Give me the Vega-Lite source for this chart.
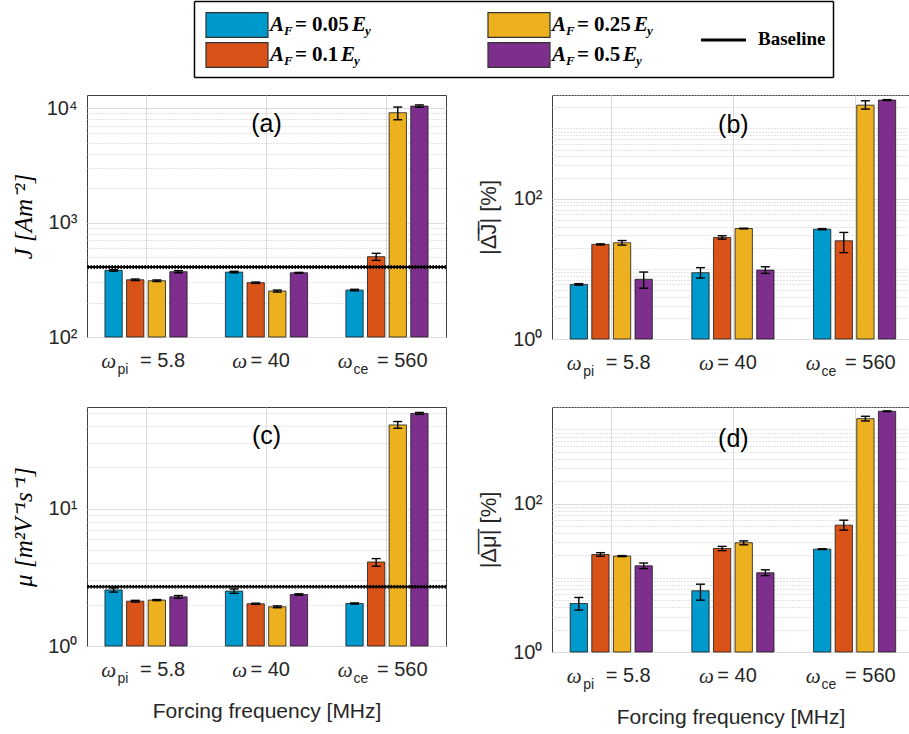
{
  "$schema": "https://vega.github.io/schema/vega-lite/v6.json",
  "background": "white",
  "padding": {"left": 10, "top": 1, "right": 0, "bottom": 0},
  "datasets": {
    "bars": [
      {"panel": "a", "freq": "5.8", "amp": "0.05", "value": 382, "lo": 376, "hi": 388},
      {"panel": "a", "freq": "5.8", "amp": "0.1", "value": 316, "lo": 311, "hi": 321},
      {"panel": "a", "freq": "5.8", "amp": "0.25", "value": 310, "lo": 305, "hi": 315},
      {"panel": "a", "freq": "5.8", "amp": "0.5", "value": 372, "lo": 364, "hi": 380},
      {"panel": "a", "freq": "40", "amp": "0.05", "value": 369, "lo": 363, "hi": 375},
      {"panel": "a", "freq": "40", "amp": "0.1", "value": 298, "lo": 294, "hi": 302},
      {"panel": "a", "freq": "40", "amp": "0.25", "value": 252, "lo": 247, "hi": 257},
      {"panel": "a", "freq": "40", "amp": "0.5", "value": 364, "lo": 361, "hi": 367},
      {"panel": "a", "freq": "560", "amp": "0.05", "value": 257, "lo": 253, "hi": 261},
      {"panel": "a", "freq": "560", "amp": "0.1", "value": 503, "lo": 467, "hi": 538},
      {"panel": "a", "freq": "560", "amp": "0.25", "value": 9100, "lo": 7900, "hi": 10200},
      {"panel": "a", "freq": "560", "amp": "0.5", "value": 10400, "lo": 10150, "hi": 10650},
      {"panel": "b", "freq": "5.8", "amp": "0.05", "value": 6.0, "lo": 5.85, "hi": 6.15},
      {"panel": "b", "freq": "5.8", "amp": "0.1", "value": 22.3, "lo": 21.9, "hi": 22.7},
      {"panel": "b", "freq": "5.8", "amp": "0.25", "value": 23.5, "lo": 21.8, "hi": 25.3},
      {"panel": "b", "freq": "5.8", "amp": "0.5", "value": 7.1, "lo": 5.3, "hi": 9.0},
      {"panel": "b", "freq": "40", "amp": "0.05", "value": 8.8, "lo": 7.4, "hi": 10.4},
      {"panel": "b", "freq": "40", "amp": "0.1", "value": 28.0, "lo": 26.5, "hi": 29.6},
      {"panel": "b", "freq": "40", "amp": "0.25", "value": 37.5, "lo": 37.1, "hi": 37.9},
      {"panel": "b", "freq": "40", "amp": "0.5", "value": 9.6, "lo": 8.6, "hi": 10.7},
      {"panel": "b", "freq": "560", "amp": "0.05", "value": 36.7, "lo": 36.0, "hi": 37.4},
      {"panel": "b", "freq": "560", "amp": "0.1", "value": 25.1, "lo": 17.0, "hi": 33.0},
      {"panel": "b", "freq": "560", "amp": "0.25", "value": 2150, "lo": 1890, "hi": 2480},
      {"panel": "b", "freq": "560", "amp": "0.5", "value": 2540, "lo": 2500, "hi": 2580},
      {"panel": "c", "freq": "5.8", "amp": "0.05", "value": 2.56, "lo": 2.47, "hi": 2.65},
      {"panel": "c", "freq": "5.8", "amp": "0.1", "value": 2.12, "lo": 2.09, "hi": 2.15},
      {"panel": "c", "freq": "5.8", "amp": "0.25", "value": 2.16, "lo": 2.14, "hi": 2.18},
      {"panel": "c", "freq": "5.8", "amp": "0.5", "value": 2.28, "lo": 2.23, "hi": 2.33},
      {"panel": "c", "freq": "40", "amp": "0.05", "value": 2.51, "lo": 2.42, "hi": 2.6},
      {"panel": "c", "freq": "40", "amp": "0.1", "value": 2.03, "lo": 2.01, "hi": 2.05},
      {"panel": "c", "freq": "40", "amp": "0.25", "value": 1.93, "lo": 1.9, "hi": 1.96},
      {"panel": "c", "freq": "40", "amp": "0.5", "value": 2.37, "lo": 2.34, "hi": 2.4},
      {"panel": "c", "freq": "560", "amp": "0.05", "value": 2.04, "lo": 2.02, "hi": 2.06},
      {"panel": "c", "freq": "560", "amp": "0.1", "value": 4.09, "lo": 3.81, "hi": 4.33},
      {"panel": "c", "freq": "560", "amp": "0.25", "value": 40.7, "lo": 38.5, "hi": 43.1},
      {"panel": "c", "freq": "560", "amp": "0.5", "value": 49.4, "lo": 48.6, "hi": 50.2},
      {"panel": "d", "freq": "5.8", "amp": "0.05", "value": 4.51, "lo": 3.67, "hi": 5.43},
      {"panel": "d", "freq": "5.8", "amp": "0.1", "value": 20.6, "lo": 19.5, "hi": 21.8},
      {"panel": "d", "freq": "5.8", "amp": "0.25", "value": 19.6, "lo": 19.3, "hi": 19.9},
      {"panel": "d", "freq": "5.8", "amp": "0.5", "value": 14.5, "lo": 13.3, "hi": 15.8},
      {"panel": "d", "freq": "40", "amp": "0.05", "value": 6.68, "lo": 5.0, "hi": 8.2},
      {"panel": "d", "freq": "40", "amp": "0.1", "value": 24.8, "lo": 23.2, "hi": 26.5},
      {"panel": "d", "freq": "40", "amp": "0.25", "value": 29.6, "lo": 27.8, "hi": 31.4},
      {"panel": "d", "freq": "40", "amp": "0.5", "value": 11.7, "lo": 10.7, "hi": 12.8},
      {"panel": "d", "freq": "560", "amp": "0.05", "value": 24.3, "lo": 24.0, "hi": 24.6},
      {"panel": "d", "freq": "560", "amp": "0.1", "value": 51.2, "lo": 43.9, "hi": 59.7},
      {"panel": "d", "freq": "560", "amp": "0.25", "value": 1393, "lo": 1297, "hi": 1500},
      {"panel": "d", "freq": "560", "amp": "0.5", "value": 1751, "lo": 1730, "hi": 1772}
    ],
    "baseline": [
      {"panel": "a", "value": 408, "lo": 396, "hi": 420},
      {"panel": "c", "value": 2.7, "lo": 2.64, "hi": 2.76}
    ],
    "legend": [
      {"amp": "0.05", "col": "c1", "row": "r1"},
      {"amp": "0.1", "col": "c1", "row": "r2"},
      {"amp": "0.25", "col": "c2", "row": "r1"},
      {"amp": "0.5", "col": "c2", "row": "r2"}
    ],
    "legendBase": [
      {"item": "Baseline", "col": "c3", "row": "mid"}
    ]
  },
  "vconcat": [
    {
      "width": 746,
      "height": 76,
      "view": {"stroke": null},
      "encoding": {
        "x": {"field": "col", "type": "nominal", "scale": {"type": "point", "domain": ["c1", "c2", "c3"], "range": [107, 746], "padding": 0.133, "align": 0.573}, "axis": null},
        "y": {"field": "row", "type": "nominal", "scale": {"type": "point", "domain": ["r1", "mid", "r2"], "range": [24, 54], "padding": 0}, "axis": null}
      },
      "layer": [
        {
          "data": {"name": "legend"},
          "mark": {"type": "point", "shape": "M-1,-0.4H1V0.4H-1Z", "size": 3844, "filled": true, "opacity": 1, "stroke": "#333333", "strokeWidth": 1.2},
          "encoding": {
            "x": {"field": "col", "type": "nominal", "scale": {"type": "point", "domain": ["c1", "c2", "c3"], "range": [107, 746], "padding": 0.133, "align": 0.573},
                  "axis": {"orient": "bottom", "labels": false, "ticks": false, "grid": false, "title": null, "domain": true, "domainColor": "black", "domainWidth": 1.5}},
            "fill": {"field": "amp", "type": "nominal", "scale": {"domain": ["0.05", "0.1", "0.25", "0.5"], "range": ["#0099CC", "#D95319", "#EDB120", "#7E2F8E"]}, "legend": null}
          }
        },
        {
          "data": {"name": "legend"},
          "mark": {"type": "text", "text": "A", "align": "left", "baseline": "middle", "dx": 33, "font": "Liberation Serif", "fontStyle": "italic", "fontWeight": "bold", "fontSize": 21, "color": "black"},
          "encoding": {
            "x": {"field": "col", "type": "nominal", "scale": {"type": "point", "domain": ["c1", "c2", "c3"], "range": [107, 746], "padding": 0.133, "align": 0.573},
                  "axis": {"orient": "top", "labels": false, "ticks": false, "grid": false, "title": null, "domain": true, "domainColor": "black", "domainWidth": 1.5}}
          }
        },
        {
          "data": {"name": "legend"},
          "mark": {"type": "text", "text": "F", "align": "left", "baseline": "middle", "dx": 47, "dy": 6, "font": "Liberation Serif", "fontStyle": "italic", "fontWeight": "bold", "fontSize": 13, "color": "black"},
          "encoding": {}
        },
        {
          "data": {"name": "legend"},
          "mark": {"type": "text", "text": "=", "align": "left", "baseline": "middle", "dx": 58, "font": "Liberation Serif", "fontWeight": "bold", "fontSize": 21, "color": "black"},
          "encoding": {}
        },
        {
          "data": {"name": "legend"},
          "mark": {"type": "text", "align": "left", "baseline": "middle", "dx": 75, "font": "Liberation Serif", "fontWeight": "bold", "fontSize": 21, "color": "black"},
          "encoding": {"text": {"field": "amp"}}
        },
        {
          "data": {"name": "legend"},
          "transform": [{"filter": "length(datum.amp) == 4"}],
          "mark": {"type": "text", "text": "E", "align": "left", "baseline": "middle", "dx": 115, "font": "Liberation Serif", "fontStyle": "italic", "fontWeight": "bold", "fontSize": 21, "color": "black"},
          "encoding": {}
        },
        {
          "data": {"name": "legend"},
          "transform": [{"filter": "length(datum.amp) == 3"}],
          "mark": {"type": "text", "text": "E", "align": "left", "baseline": "middle", "dx": 104, "font": "Liberation Serif", "fontStyle": "italic", "fontWeight": "bold", "fontSize": 21, "color": "black"},
          "encoding": {}
        },
        {
          "data": {"name": "legend"},
          "transform": [{"filter": "length(datum.amp) == 4"}],
          "mark": {"type": "text", "text": "y", "align": "left", "baseline": "middle", "dx": 128, "dy": 6, "font": "Liberation Serif", "fontStyle": "italic", "fontWeight": "bold", "fontSize": 13, "color": "black"},
          "encoding": {}
        },
        {
          "data": {"name": "legend"},
          "transform": [{"filter": "length(datum.amp) == 3"}],
          "mark": {"type": "text", "text": "y", "align": "left", "baseline": "middle", "dx": 117, "dy": 6, "font": "Liberation Serif", "fontStyle": "italic", "fontWeight": "bold", "fontSize": 13, "color": "black"},
          "encoding": {}
        },
        {
          "data": {"name": "legendBase"},
          "mark": {"type": "point", "shape": "M-10,0H-5.5", "size": 400, "filled": false, "opacity": 1, "stroke": "black", "strokeWidth": 3},
          "encoding": {}
        },
        {
          "data": {"name": "legendBase"},
          "mark": {"type": "text", "align": "left", "baseline": "middle", "dx": -43, "font": "Liberation Serif", "fontWeight": "bold", "fontSize": 19, "color": "black"},
          "encoding": {
            "y": {"field": "row", "type": "nominal", "scale": {"type": "point", "domain": ["r1", "mid", "r2"], "range": [0, 76], "padding": 0},
                  "axis": {"orient": "left", "offset": -107, "labels": false, "ticks": false, "grid": false, "title": null, "domain": true, "domainColor": "black", "domainWidth": 1.5}},
            "text": {"field": "item"}
          }
        },
        {
          "data": {"name": "legendBase"},
          "mark": {"type": "text", "text": "", "align": "left", "baseline": "middle", "font": "Liberation Serif", "fontSize": 19, "color": "black"},
          "encoding": {
            "y": {"field": "row", "type": "nominal", "scale": {"type": "point", "domain": ["r1", "mid", "r2"], "range": [0, 76], "padding": 0},
                  "axis": {"orient": "right", "labels": false, "ticks": false, "grid": false, "title": null, "domain": true, "domainColor": "black", "domainWidth": 1.5}}
          }
        }
      ],
      "resolve": {"scale": {"y": "independent"}, "axis": {"x": "independent", "y": "independent"}}
    },
    {
      "spacing": 27,
      "vconcat": [
        {
          "spacing": 28,
          "hconcat": [
            {
              "width": 359,
              "height": 242,
              "layer": [
                {
                  "data": {"name": "bars"},
                  "transform": [{"filter": "datum.panel == 'a'"}],
                  "mark": {"type": "bar", "stroke": "#1a1a1a", "strokeWidth": 0.8},
                  "encoding": {
                    "x": {"field": "freq", "type": "nominal", "sort": ["5.8", "40", "560"], "scale": {"domain": ["5.8", "40", "560"], "paddingInner": 0.3, "paddingOuter": 0.14, "align": 0.5},
                          "axis": {"orient": "bottom", "title": null, "labelExpr": "'= ' + datum.label", "labelAlign": "left", "labelBaseline": "top", "labelAngle": 0, "labelFontSize": 20, "labelPadding": 13,
                                   "labelOffset": {"condition": [{"test": "datum.value == '5.8'", "value": -6}, {"test": "datum.value == '40'", "value": -16}], "value": -10},
                                   "labelOverlap": false, "labelBound": false, "ticks": false, "domain": false, "grid": true, "gridColor": "#dcdcdc", "bandPosition": 0.5}},
                    "xOffset": {"field": "amp", "type": "nominal", "scale": {"domain": ["0.05", "0.1", "0.25", "0.5"], "paddingInner": 0.2, "paddingOuter": 0.05}},
                    "y": {"field": "value", "type": "quantitative", "scale": {"type": "log", "domain": [100, 13000], "nice": false},
                          "axis": {"orient": "left", "values": [100, 1000, 10000], "labelExpr": "'10' + ['⁰','¹','²','³','⁴'][round(log(datum.value)/LN10)]", "labelFontSize": 20, "labelPadding": 10, "labelOverlap": false,
                                   "ticks": false, "domain": false, "grid": true, "gridColor": "#dcdcdc", "minExtent": 44, "maxExtent": 44,
                                   "title": "J [Am⁻²]", "titleFont": "Liberation Serif", "titleFontStyle": "italic", "titleFontWeight": "normal", "titleFontSize": 25, "titlePadding": 7, "titleColor": "black"}},
                    "y2": {"datum": 100},
                    "fill": {"field": "amp", "type": "nominal", "scale": {"domain": ["0.05", "0.1", "0.25", "0.5"], "range": ["#0099CC", "#D95319", "#EDB120", "#7E2F8E"]}, "legend": null}
                  }
                },
                {
                  "data": {"name": "bars"},
                  "transform": [{"filter": "datum.panel == 'a'"}],
                  "mark": {"type": "rule", "color": "black", "strokeWidth": 1.4},
                  "encoding": {
                    "x": {"field": "freq", "type": "nominal",
                          "axis": {"orient": "bottom", "title": null, "labelExpr": "'ω'", "labelAlign": "right", "labelBaseline": "top", "labelAngle": 0, "labelFont": "Liberation Serif", "labelFontStyle": "italic", "labelFontSize": 21, "labelPadding": 13,
                                   "labelOffset": {"condition": [{"test": "datum.value == '5.8'", "value": -30}, {"test": "datum.value == '40'", "value": -19.5}], "value": -34.5},
                                   "labelOverlap": false, "labelBound": false, "ticks": false, "domain": false, "grid": false, "bandPosition": 0.5}},
                    "xOffset": {"field": "amp", "type": "nominal"},
                    "y": {"field": "lo", "type": "quantitative", "scale": {"type": "log", "domain": [100, 13000], "nice": false},
                          "axis": {"orient": "left", "values": [200, 300, 400, 500, 600, 700, 800, 900, 2000, 3000, 4000, 5000, 6000, 7000, 8000, 9000], "labels": false, "ticks": false, "domain": false, "grid": true, "gridColor": "#c8c8c8", "gridDash": [1, 2], "title": null}},
                    "y2": {"field": "hi"}
                  }
                },
                {
                  "data": {"name": "bars"},
                  "transform": [{"filter": "datum.panel == 'a'"}],
                  "mark": {"type": "tick", "color": "black", "thickness": 1.4, "size": 9, "opacity": 1},
                  "encoding": {
                    "x": {"field": "freq", "type": "nominal",
                          "axis": {"orient": "bottom", "title": null, "labelExpr": "datum.value == '5.8' ? 'pi' : datum.value == '560' ? 'ce' : ''", "labelAlign": "left", "labelBaseline": "top", "labelAngle": 0, "labelFontSize": 14, "labelPadding": 25,
                                   "labelOffset": {"condition": {"test": "datum.value == '5.8'", "value": -28.5}, "value": -33.5},
                                   "labelOverlap": false, "labelBound": false, "ticks": false, "domain": false, "grid": false, "bandPosition": 0.5}},
                    "xOffset": {"field": "amp", "type": "nominal"},
                    "y": {"field": "lo", "type": "quantitative", "scale": {"type": "log", "domain": [100, 13000], "nice": false}, "axis": null}
                  }
                },
                {
                  "data": {"name": "bars"},
                  "transform": [{"filter": "datum.panel == 'a'"}],
                  "mark": {"type": "tick", "color": "black", "thickness": 1.4, "size": 9, "opacity": 1},
                  "encoding": {
                    "x": {"field": "freq", "type": "nominal", "axis": null},
                    "xOffset": {"field": "amp", "type": "nominal"},
                    "y": {"field": "hi", "type": "quantitative", "scale": {"type": "log", "domain": [100, 13000], "nice": false}, "axis": null}
                  }
                },
                {
                  "data": {"name": "baseline"},
                  "transform": [{"filter": "datum.panel == 'a'"}],
                  "mark": {"type": "rule", "color": "black", "strokeWidth": 2},
                  "encoding": {"y": {"field": "value", "type": "quantitative", "scale": {"type": "log", "domain": [100, 13000], "nice": false}, "axis": null}}
                },
                {
                  "data": {"name": "baseline"},
                  "transform": [{"filter": "datum.panel == 'a'"}],
                  "mark": {"type": "rule", "color": "black", "strokeWidth": 1, "strokeDash": [1.5, 1.5]},
                  "encoding": {"y": {"field": "lo", "type": "quantitative", "scale": {"type": "log", "domain": [100, 13000], "nice": false}, "axis": null}}
                },
                {
                  "data": {"name": "baseline"},
                  "transform": [{"filter": "datum.panel == 'a'"}],
                  "mark": {"type": "rule", "color": "black", "strokeWidth": 1, "strokeDash": [1.5, 1.5]},
                  "encoding": {"y": {"field": "hi", "type": "quantitative", "scale": {"type": "log", "domain": [100, 13000], "nice": false}, "axis": null}}
                },
                {
                  "data": {"values": [{"tag": "(a)"}]},
                  "mark": {"type": "text", "font": "Liberation Sans", "fontSize": 25, "align": "center", "baseline": "middle", "color": "black"},
                  "encoding": {
                    "x": {"datum": "40", "type": "nominal", "axis": null},
                    "y": {"datum": 7280, "type": "quantitative", "scale": {"type": "log", "domain": [100, 13000], "nice": false}, "axis": null},
                    "text": {"field": "tag"}
                  }
                }
              ],
              "resolve": {"axis": {"x": "independent", "y": "independent"}}
            },
            {
              "width": 357,
              "height": 244,
              "layer": [
                {
                  "data": {"name": "bars"},
                  "transform": [{"filter": "datum.panel == 'b'"}],
                  "mark": {"type": "bar", "stroke": "#1a1a1a", "strokeWidth": 0.8},
                  "encoding": {
                    "x": {"field": "freq", "type": "nominal", "sort": ["5.8", "40", "560"], "scale": {"domain": ["5.8", "40", "560"], "paddingInner": 0.3, "paddingOuter": 0.117, "align": 0.6},
                          "axis": {"orient": "bottom", "title": null, "labelExpr": "'= ' + datum.label", "labelAlign": "left", "labelBaseline": "top", "labelAngle": 0, "labelFontSize": 20, "labelPadding": 13,
                                   "labelOffset": {"condition": [{"test": "datum.value == '5.8'", "value": -6}, {"test": "datum.value == '40'", "value": -16}], "value": -10},
                                   "labelOverlap": false, "labelBound": false, "ticks": false, "domain": false, "grid": true, "gridColor": "#dcdcdc", "bandPosition": 0.5}},
                    "xOffset": {"field": "amp", "type": "nominal", "scale": {"domain": ["0.05", "0.1", "0.25", "0.5"], "paddingInner": 0.2, "paddingOuter": 0.05}},
                    "y": {"field": "value", "type": "quantitative", "scale": {"type": "log", "domain": [1, 3000], "nice": false},
                          "axis": {"orient": "left", "values": [1, 100], "labelExpr": "'10' + ['⁰','¹','²','³','⁴'][round(log(datum.value)/LN10)]", "labelFontSize": 20, "labelPadding": 10, "labelOverlap": false,
                                   "ticks": false, "domain": false, "grid": true, "gridColor": "#dcdcdc", "minExtent": 44, "maxExtent": 44,
                                   "title": "|Δ̅J̅| [%]", "titleFont": "Liberation Sans", "titleFontWeight": "normal", "titleFontSize": 22, "titlePadding": 8, "titleColor": "#262626"}},
                    "y2": {"datum": 1},
                    "fill": {"field": "amp", "type": "nominal", "scale": {"domain": ["0.05", "0.1", "0.25", "0.5"], "range": ["#0099CC", "#D95319", "#EDB120", "#7E2F8E"]}, "legend": null}
                  }
                },
                {
                  "data": {"name": "bars"},
                  "transform": [{"filter": "datum.panel == 'b'"}],
                  "mark": {"type": "rule", "color": "black", "strokeWidth": 1.4},
                  "encoding": {
                    "x": {"field": "freq", "type": "nominal",
                          "axis": {"orient": "bottom", "title": null, "labelExpr": "'ω'", "labelAlign": "right", "labelBaseline": "top", "labelAngle": 0, "labelFont": "Liberation Serif", "labelFontStyle": "italic", "labelFontSize": 21, "labelPadding": 13,
                                   "labelOffset": {"condition": [{"test": "datum.value == '5.8'", "value": -30}, {"test": "datum.value == '40'", "value": -19.5}], "value": -34.5},
                                   "labelOverlap": false, "labelBound": false, "ticks": false, "domain": false, "grid": false, "bandPosition": 0.5}},
                    "xOffset": {"field": "amp", "type": "nominal"},
                    "y": {"field": "lo", "type": "quantitative", "scale": {"type": "log", "domain": [1, 3000], "nice": false},
                          "axis": {"orient": "left", "values": [2, 3, 4, 5, 6, 7, 8, 9, 10, 20, 30, 40, 50, 60, 70, 80, 90, 200, 300, 400, 500, 600, 700, 800, 900, 1000, 2000, 3000], "labels": false, "ticks": false, "domain": false, "grid": true, "gridColor": "#c8c8c8", "gridDash": [1, 2], "title": null}},
                    "y2": {"field": "hi"}
                  }
                },
                {
                  "data": {"name": "bars"},
                  "transform": [{"filter": "datum.panel == 'b'"}],
                  "mark": {"type": "tick", "color": "black", "thickness": 1.4, "size": 9, "opacity": 1},
                  "encoding": {
                    "x": {"field": "freq", "type": "nominal",
                          "axis": {"orient": "bottom", "title": null, "labelExpr": "datum.value == '5.8' ? 'pi' : datum.value == '560' ? 'ce' : ''", "labelAlign": "left", "labelBaseline": "top", "labelAngle": 0, "labelFontSize": 14, "labelPadding": 25,
                                   "labelOffset": {"condition": {"test": "datum.value == '5.8'", "value": -28.5}, "value": -33.5},
                                   "labelOverlap": false, "labelBound": false, "ticks": false, "domain": false, "grid": false, "bandPosition": 0.5}},
                    "xOffset": {"field": "amp", "type": "nominal"},
                    "y": {"field": "lo", "type": "quantitative", "scale": {"type": "log", "domain": [1, 3000], "nice": false}, "axis": null}
                  }
                },
                {
                  "data": {"name": "bars"},
                  "transform": [{"filter": "datum.panel == 'b'"}],
                  "mark": {"type": "tick", "color": "black", "thickness": 1.4, "size": 9, "opacity": 1},
                  "encoding": {
                    "x": {"field": "freq", "type": "nominal", "axis": null},
                    "xOffset": {"field": "amp", "type": "nominal"},
                    "y": {"field": "hi", "type": "quantitative", "scale": {"type": "log", "domain": [1, 3000], "nice": false}, "axis": null}
                  }
                },
                {
                  "data": {"values": [{"tag": "(b)"}]},
                  "mark": {"type": "text", "font": "Liberation Sans", "fontSize": 25, "align": "center", "baseline": "middle", "color": "black"},
                  "encoding": {
                    "x": {"datum": "40", "type": "nominal", "axis": null},
                    "y": {"datum": 1132, "type": "quantitative", "scale": {"type": "log", "domain": [1, 3000], "nice": false}, "axis": null},
                    "text": {"field": "tag"}
                  }
                }
              ],
              "resolve": {"axis": {"x": "independent", "y": "independent"}}
            }
          ]
        },
        {
          "spacing": 28,
          "hconcat": [
            {
              "width": 359,
              "height": 239,
              "layer": [
                {
                  "data": {"name": "bars"},
                  "transform": [{"filter": "datum.panel == 'c'"}],
                  "mark": {"type": "bar", "stroke": "#1a1a1a", "strokeWidth": 0.8},
                  "encoding": {
                    "x": {"field": "freq", "type": "nominal", "sort": ["5.8", "40", "560"], "scale": {"domain": ["5.8", "40", "560"], "paddingInner": 0.3, "paddingOuter": 0.14, "align": 0.5},
                          "axis": {"orient": "bottom", "title": "Forcing frequency [MHz]", "titleFont": "Liberation Sans", "titleFontSize": 21, "titleFontWeight": "normal", "titlePadding": 21, "titleColor": "#262626",
                                   "labelExpr": "'= ' + datum.label", "labelAlign": "left", "labelBaseline": "top", "labelAngle": 0, "labelFontSize": 20, "labelPadding": 13,
                                   "labelOffset": {"condition": [{"test": "datum.value == '5.8'", "value": -6}, {"test": "datum.value == '40'", "value": -16}], "value": -10},
                                   "labelOverlap": false, "labelBound": false, "ticks": false, "domain": false, "grid": true, "gridColor": "#dcdcdc", "bandPosition": 0.5}},
                    "xOffset": {"field": "amp", "type": "nominal", "scale": {"domain": ["0.05", "0.1", "0.25", "0.5"], "paddingInner": 0.2, "paddingOuter": 0.05}},
                    "y": {"field": "value", "type": "quantitative", "scale": {"type": "log", "domain": [1, 55], "nice": false},
                          "axis": {"orient": "left", "values": [1, 10], "labelExpr": "'10' + ['⁰','¹','²','³','⁴'][round(log(datum.value)/LN10)]", "labelFontSize": 20, "labelPadding": 10, "labelOverlap": false,
                                   "ticks": false, "domain": false, "grid": true, "gridColor": "#dcdcdc", "minExtent": 44, "maxExtent": 44,
                                   "title": "μ [m²V⁻¹s⁻¹]", "titleFont": "Liberation Serif", "titleFontStyle": "italic", "titleFontWeight": "normal", "titleFontSize": 25, "titlePadding": 7, "titleColor": "black"}},
                    "y2": {"datum": 1},
                    "fill": {"field": "amp", "type": "nominal", "scale": {"domain": ["0.05", "0.1", "0.25", "0.5"], "range": ["#0099CC", "#D95319", "#EDB120", "#7E2F8E"]}, "legend": null}
                  }
                },
                {
                  "data": {"name": "bars"},
                  "transform": [{"filter": "datum.panel == 'c'"}],
                  "mark": {"type": "rule", "color": "black", "strokeWidth": 1.4},
                  "encoding": {
                    "x": {"field": "freq", "type": "nominal",
                          "axis": {"orient": "bottom", "title": null, "labelExpr": "'ω'", "labelAlign": "right", "labelBaseline": "top", "labelAngle": 0, "labelFont": "Liberation Serif", "labelFontStyle": "italic", "labelFontSize": 21, "labelPadding": 13,
                                   "labelOffset": {"condition": [{"test": "datum.value == '5.8'", "value": -30}, {"test": "datum.value == '40'", "value": -19.5}], "value": -34.5},
                                   "labelOverlap": false, "labelBound": false, "ticks": false, "domain": false, "grid": false, "bandPosition": 0.5}},
                    "xOffset": {"field": "amp", "type": "nominal"},
                    "y": {"field": "lo", "type": "quantitative", "scale": {"type": "log", "domain": [1, 55], "nice": false},
                          "axis": {"orient": "left", "values": [2, 3, 4, 5, 6, 7, 8, 9, 20, 30, 40, 50], "labels": false, "ticks": false, "domain": false, "grid": true, "gridColor": "#c8c8c8", "gridDash": [1, 2], "title": null}},
                    "y2": {"field": "hi"}
                  }
                },
                {
                  "data": {"name": "bars"},
                  "transform": [{"filter": "datum.panel == 'c'"}],
                  "mark": {"type": "tick", "color": "black", "thickness": 1.4, "size": 9, "opacity": 1},
                  "encoding": {
                    "x": {"field": "freq", "type": "nominal",
                          "axis": {"orient": "bottom", "title": null, "labelExpr": "datum.value == '5.8' ? 'pi' : datum.value == '560' ? 'ce' : ''", "labelAlign": "left", "labelBaseline": "top", "labelAngle": 0, "labelFontSize": 14, "labelPadding": 25,
                                   "labelOffset": {"condition": {"test": "datum.value == '5.8'", "value": -28.5}, "value": -33.5},
                                   "labelOverlap": false, "labelBound": false, "ticks": false, "domain": false, "grid": false, "bandPosition": 0.5}},
                    "xOffset": {"field": "amp", "type": "nominal"},
                    "y": {"field": "lo", "type": "quantitative", "scale": {"type": "log", "domain": [1, 55], "nice": false}, "axis": null}
                  }
                },
                {
                  "data": {"name": "bars"},
                  "transform": [{"filter": "datum.panel == 'c'"}],
                  "mark": {"type": "tick", "color": "black", "thickness": 1.4, "size": 9, "opacity": 1},
                  "encoding": {
                    "x": {"field": "freq", "type": "nominal", "axis": null},
                    "xOffset": {"field": "amp", "type": "nominal"},
                    "y": {"field": "hi", "type": "quantitative", "scale": {"type": "log", "domain": [1, 55], "nice": false}, "axis": null}
                  }
                },
                {
                  "data": {"name": "baseline"},
                  "transform": [{"filter": "datum.panel == 'c'"}],
                  "mark": {"type": "rule", "color": "black", "strokeWidth": 2},
                  "encoding": {"y": {"field": "value", "type": "quantitative", "scale": {"type": "log", "domain": [1, 55], "nice": false}, "axis": null}}
                },
                {
                  "data": {"name": "baseline"},
                  "transform": [{"filter": "datum.panel == 'c'"}],
                  "mark": {"type": "rule", "color": "black", "strokeWidth": 1, "strokeDash": [1.5, 1.5]},
                  "encoding": {"y": {"field": "lo", "type": "quantitative", "scale": {"type": "log", "domain": [1, 55], "nice": false}, "axis": null}}
                },
                {
                  "data": {"name": "baseline"},
                  "transform": [{"filter": "datum.panel == 'c'"}],
                  "mark": {"type": "rule", "color": "black", "strokeWidth": 1, "strokeDash": [1.5, 1.5]},
                  "encoding": {"y": {"field": "hi", "type": "quantitative", "scale": {"type": "log", "domain": [1, 55], "nice": false}, "axis": null}}
                },
                {
                  "data": {"values": [{"tag": "(c)"}]},
                  "mark": {"type": "text", "font": "Liberation Sans", "fontSize": 25, "align": "center", "baseline": "middle", "color": "black"},
                  "encoding": {
                    "x": {"datum": "40", "type": "nominal", "axis": null},
                    "y": {"datum": 33.7, "type": "quantitative", "scale": {"type": "log", "domain": [1, 55], "nice": false}, "axis": null},
                    "text": {"field": "tag"}
                  }
                }
              ],
              "resolve": {"axis": {"x": "independent", "y": "independent"}}
            },
            {
              "width": 357,
              "height": 245,
              "layer": [
                {
                  "data": {"name": "bars"},
                  "transform": [{"filter": "datum.panel == 'd'"}],
                  "mark": {"type": "bar", "stroke": "#1a1a1a", "strokeWidth": 0.8},
                  "encoding": {
                    "x": {"field": "freq", "type": "nominal", "sort": ["5.8", "40", "560"], "scale": {"domain": ["5.8", "40", "560"], "paddingInner": 0.3, "paddingOuter": 0.117, "align": 0.6},
                          "axis": {"orient": "bottom", "title": "Forcing frequency [MHz]", "titleFont": "Liberation Sans", "titleFontSize": 21, "titleFontWeight": "normal", "titlePadding": 21, "titleColor": "#262626",
                                   "labelExpr": "'= ' + datum.label", "labelAlign": "left", "labelBaseline": "top", "labelAngle": 0, "labelFontSize": 20, "labelPadding": 13,
                                   "labelOffset": {"condition": [{"test": "datum.value == '5.8'", "value": -6}, {"test": "datum.value == '40'", "value": -16}], "value": -10},
                                   "labelOverlap": false, "labelBound": false, "ticks": false, "domain": false, "grid": true, "gridColor": "#dcdcdc", "bandPosition": 0.5}},
                    "xOffset": {"field": "amp", "type": "nominal", "scale": {"domain": ["0.05", "0.1", "0.25", "0.5"], "paddingInner": 0.2, "paddingOuter": 0.05}},
                    "y": {"field": "value", "type": "quantitative", "scale": {"type": "log", "domain": [1, 2000], "nice": false},
                          "axis": {"orient": "left", "values": [1, 100], "labelExpr": "'10' + ['⁰','¹','²','³','⁴'][round(log(datum.value)/LN10)]", "labelFontSize": 20, "labelPadding": 10, "labelOverlap": false,
                                   "ticks": false, "domain": false, "grid": true, "gridColor": "#dcdcdc", "minExtent": 44, "maxExtent": 44,
                                   "title": "|Δ̅μ̅| [%]", "titleFont": "Liberation Sans", "titleFontWeight": "normal", "titleFontSize": 22, "titlePadding": 8, "titleColor": "#262626"}},
                    "y2": {"datum": 1},
                    "fill": {"field": "amp", "type": "nominal", "scale": {"domain": ["0.05", "0.1", "0.25", "0.5"], "range": ["#0099CC", "#D95319", "#EDB120", "#7E2F8E"]}, "legend": null}
                  }
                },
                {
                  "data": {"name": "bars"},
                  "transform": [{"filter": "datum.panel == 'd'"}],
                  "mark": {"type": "rule", "color": "black", "strokeWidth": 1.4},
                  "encoding": {
                    "x": {"field": "freq", "type": "nominal",
                          "axis": {"orient": "bottom", "title": null, "labelExpr": "'ω'", "labelAlign": "right", "labelBaseline": "top", "labelAngle": 0, "labelFont": "Liberation Serif", "labelFontStyle": "italic", "labelFontSize": 21, "labelPadding": 13,
                                   "labelOffset": {"condition": [{"test": "datum.value == '5.8'", "value": -30}, {"test": "datum.value == '40'", "value": -19.5}], "value": -34.5},
                                   "labelOverlap": false, "labelBound": false, "ticks": false, "domain": false, "grid": false, "bandPosition": 0.5}},
                    "xOffset": {"field": "amp", "type": "nominal"},
                    "y": {"field": "lo", "type": "quantitative", "scale": {"type": "log", "domain": [1, 2000], "nice": false},
                          "axis": {"orient": "left", "values": [2, 3, 4, 5, 6, 7, 8, 9, 10, 20, 30, 40, 50, 60, 70, 80, 90, 200, 300, 400, 500, 600, 700, 800, 900, 1000, 2000], "labels": false, "ticks": false, "domain": false, "grid": true, "gridColor": "#c8c8c8", "gridDash": [1, 2], "title": null}},
                    "y2": {"field": "hi"}
                  }
                },
                {
                  "data": {"name": "bars"},
                  "transform": [{"filter": "datum.panel == 'd'"}],
                  "mark": {"type": "tick", "color": "black", "thickness": 1.4, "size": 9, "opacity": 1},
                  "encoding": {
                    "x": {"field": "freq", "type": "nominal",
                          "axis": {"orient": "bottom", "title": null, "labelExpr": "datum.value == '5.8' ? 'pi' : datum.value == '560' ? 'ce' : ''", "labelAlign": "left", "labelBaseline": "top", "labelAngle": 0, "labelFontSize": 14, "labelPadding": 25,
                                   "labelOffset": {"condition": {"test": "datum.value == '5.8'", "value": -28.5}, "value": -33.5},
                                   "labelOverlap": false, "labelBound": false, "ticks": false, "domain": false, "grid": false, "bandPosition": 0.5}},
                    "xOffset": {"field": "amp", "type": "nominal"},
                    "y": {"field": "lo", "type": "quantitative", "scale": {"type": "log", "domain": [1, 2000], "nice": false}, "axis": null}
                  }
                },
                {
                  "data": {"name": "bars"},
                  "transform": [{"filter": "datum.panel == 'd'"}],
                  "mark": {"type": "tick", "color": "black", "thickness": 1.4, "size": 9, "opacity": 1},
                  "encoding": {
                    "x": {"field": "freq", "type": "nominal", "axis": null},
                    "xOffset": {"field": "amp", "type": "nominal"},
                    "y": {"field": "hi", "type": "quantitative", "scale": {"type": "log", "domain": [1, 2000], "nice": false}, "axis": null}
                  }
                },
                {
                  "data": {"values": [{"tag": "(d)"}]},
                  "mark": {"type": "text", "font": "Liberation Sans", "fontSize": 25, "align": "center", "baseline": "middle", "color": "black"},
                  "encoding": {
                    "x": {"datum": "40", "type": "nominal", "axis": null},
                    "y": {"datum": 750, "type": "quantitative", "scale": {"type": "log", "domain": [1, 2000], "nice": false}, "axis": null},
                    "text": {"field": "tag"}
                  }
                }
              ],
              "resolve": {"axis": {"x": "independent", "y": "independent"}}
            }
          ]
        }
      ]
    }
  ],
  "spacing": 17,
  "config": {
    "font": "Liberation Sans",
    "view": {"stroke": "#404040", "strokeWidth": 1},
    "axis": {"labelColor": "#262626", "titleColor": "#262626", "labelFont": "Liberation Sans"}
  }
}
